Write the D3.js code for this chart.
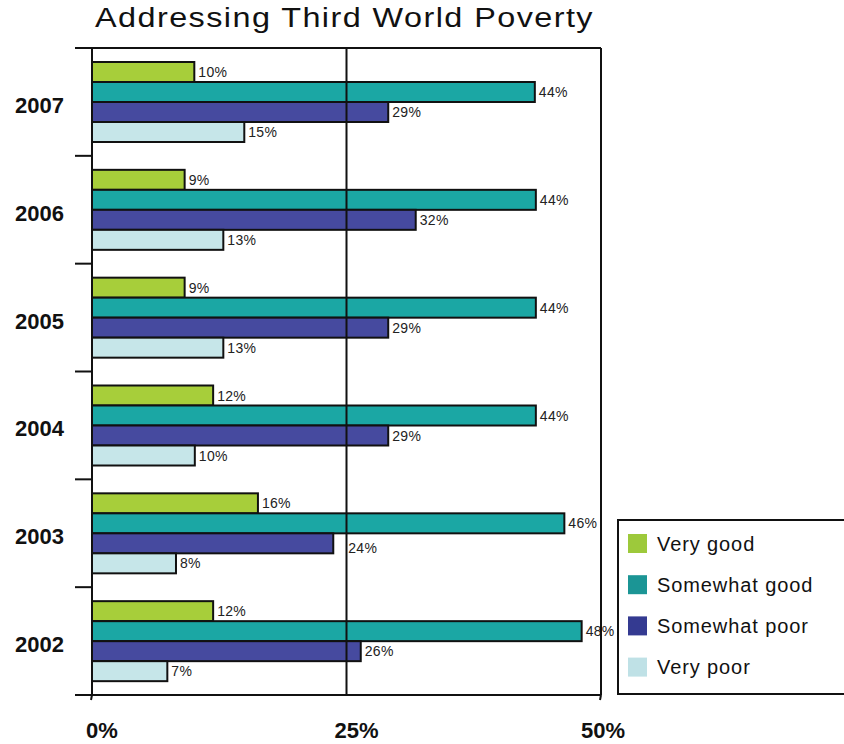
<!DOCTYPE html>
<html><head><meta charset="utf-8">
<script src="https://cdn.jsdelivr.net/npm/d3@7"></script>
<style>body{margin:0;background:#fff}svg{display:block}text{font-family:"Liberation Sans",Arial,sans-serif}</style>
</head><body><svg id="c" width="844" height="744"></svg>
<script>
const title = "Addressing Third World Poverty";
const years = ["2007","2006","2005","2004","2003","2002"];
const series = ["Very good","Somewhat good","Somewhat poor","Very poor"];
const veryGood     = [10.05, 9.1, 9.1, 11.9, 16.3, 11.9];
const somewhatGood = [43.5, 43.6, 43.6, 43.6, 46.4, 48.1];
const somewhatPoor = [29.1, 31.8, 29.1, 29.1, 23.7, 26.4];
const veryPoor     = [14.96, 12.9, 12.9, 10.1, 8.25, 7.4];
const xTicks = [0, 25, 50];
const colors = ["#a7ce3a","#1ba7a4","#464a9f","#c6e6e9"];
const legendColors = ["#9dc93b","#1b9595","#343a91","#bfe1e6"];

const values = [veryGood, somewhatGood, somewhatPoor, veryPoor];
const data = [];
years.forEach((y,i)=>series.forEach((s,j)=>data.push({year:y, series:s, si:j, value:values[j][i]})));

const svg = d3.select("#c");
const L=92, R=601, T=48, B=695;
const x = d3.scaleLinear().domain([0,50]).range([L,R]);
const y = d3.scaleBand().domain(years).range([T,B]);
const yi = d3.scaleBand().domain(series).range([14, 94]);

// title
svg.append("text").attr("x",95).attr("y",27).attr("font-size",27).attr("fill","#111")
  .attr("letter-spacing",1.2)
  .attr("textLength",499).attr("lengthAdjust","spacingAndGlyphs").text(title);

// bars
svg.append("g").selectAll("rect").data(data).join("rect")
  .attr("x", x(0))
  .attr("y", d=>y(d.year)+yi(d.series))
  .attr("width", d=>x(d.value)-x(0))
  .attr("height", yi.bandwidth())
  .attr("fill", d=>colors[d.si])
  .attr("stroke","#111").attr("stroke-width",2);

// value labels
svg.append("g").selectAll("text").data(data).join("text")
  .attr("x", d=>x(d.value)+ (d.year==="2003"&&d.si===2 ? 15 : 4))
  .attr("y", d=>y(d.year)+yi(d.series)+yi.bandwidth()/2 + (d.year==="2003"&&d.si===2 ? 5 : 0))
  .attr("dy","0.36em")
  .attr("font-size",14).attr("letter-spacing",0.3).attr("fill","#222")
  .text(d=>Math.round(d.value)+"%");

// frame
const g = svg.append("g").attr("stroke","#111").attr("stroke-width",2).attr("fill","none");
g.append("line").attr("x1",x(25)).attr("x2",x(25)).attr("y1",T).attr("y2",B);
g.append("line").attr("x1",L).attr("x2",R).attr("y1",T).attr("y2",T);
g.append("line").attr("x1",R).attr("x2",R).attr("y1",T).attr("y2",B);
g.append("line").attr("x1",L).attr("x2",R).attr("y1",B).attr("y2",B);
g.append("line").attr("x1",L).attr("x2",L).attr("y1",T).attr("y2",B);
// y band ticks
const bounds = years.map(d=>y(d)).concat([B]);
g.selectAll(".yt").data(bounds).join("line").attr("class","yt")
  .attr("x1",75).attr("x2",L).attr("y1",d=>d).attr("y2",d=>d);
// x small ticks
g.selectAll(".xt").data([0,50]).join("line").attr("class","xt")
  .attr("x1",d=>x(d)).attr("x2",d=>x(d)-1).attr("y1",B).attr("y2",B+5);

// year labels
svg.append("g").selectAll("text").data(years).join("text")
  .attr("x",64).attr("y",d=>y(d)+y.bandwidth()/2).attr("dy","0.5em")
  .attr("text-anchor","end").attr("font-size",22).attr("font-weight","bold").attr("fill","#111")
  .text(d=>d);

// x tick labels
svg.append("g").selectAll("text").data(xTicks).join("text")
  .attr("x",d=>x(d)+(d===50?2:10)).attr("y",738)
  .attr("text-anchor","middle").attr("font-size",22).attr("font-weight","bold").attr("fill","#111")
  .text(d=>d+"%");

// legend
const lg = svg.append("g");
lg.append("rect").attr("x",618).attr("y",520).attr("width",260).attr("height",174)
  .attr("fill","#fff").attr("stroke","#111").attr("stroke-width",2);
const li = lg.selectAll("g").data(series).join("g")
  .attr("transform",(d,i)=>`translate(628,${534+i*41.2})`);
li.append("rect").attr("width",19).attr("height",19).attr("fill",(d,i)=>legendColors[i]);
li.append("text").attr("x",29).attr("y",9.5).attr("dy","0.36em").attr("font-size",20)
  .attr("letter-spacing",0.9).attr("fill","#111").text(d=>d);
</script></body></html>
